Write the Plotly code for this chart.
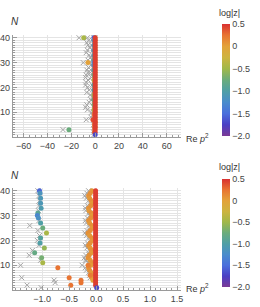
import plotly.graph_objects as go

# ---------------- data ----------------
# gray crosses: (Re p^2, N)
cross_far_x = [-13.5, -6.5, -5.5, -2.5, -7.0, -6.0, -3.0, -4.5, -6.5, -2.0, -7.5, -5.0, -4.0, -2.5,
               -6.0, -10.0, -4.5, -3.5, -2.0, -5.5, -7.0, -6.0, -4.0, -7.5, -8.0, -3.0, -6.0, -7.5,
               -8.0, -2.5, -6.5, -5.0, -7.0, -4.0, -2.5, -3.5, -5.0, -7.0, -8.0, -6.5, -3.0, -2.0,
               -3.5, -7.5, -27.0]
cross_far_n = [40, 40, 39, 39, 38, 37, 37, 36, 35, 35, 34, 33, 32, 31,
               31, 30, 30, 29, 28, 28, 27, 26, 26, 25, 24, 24, 23, 22,
               21, 21, 20, 19, 18, 17, 16, 15, 14, 13, 12, 11, 10, 9,
               8, 7, 3]

cross_band_x = [-0.14, -0.17, -0.21, -0.18, -0.14, -0.12, -0.16, -0.20, -0.19, -0.14, -0.12, -0.16,
                -0.20, -0.18, -0.13, -0.12, -0.17, -0.21, -0.18, -0.14, -0.12, -0.16, -0.20, -0.17,
                -0.13, -0.14, -0.19, -0.22, -0.18, -0.14, -0.26, -0.20, -0.18, -0.14, -0.12, -0.11]
cross_band_n = [40, 39, 38, 37, 36, 35, 34, 33, 32, 31, 30, 29,
                28, 27, 26, 25, 24, 23, 22, 21, 20, 19, 18, 17,
                16, 15, 14, 13, 12, 11, 10, 9, 8, 7, 6, 5]

cross_left_x = [-1.08, -1.06, -1.05, -1.06, -1.07, -1.06, -1.23, -1.70, -1.08, -1.05, -1.09, -1.06,
                -1.18, -1.24, -1.03, -1.40, -1.38, -1.28, -1.02, -0.78, -0.76, -0.20]
cross_left_n = [40, 38, 36, 34, 32, 28, 26, 26, 24, 22, 20, 18,
                16, 14, 12, 10, 5, 2, 1, 4, 3, 12]

# coloured dots: (Re p^2, N, log|z|)
dot_col_x = [-0.01] * 39
dot_col_n = list(range(2, 41))
dot_col_v = [0.45] * 39

dot_band_x = [-0.08, -0.11, -0.14, -0.12, -0.09, -0.07, -0.10, -0.14, -0.13, -0.09, -0.07, -0.10,
              -0.14, -0.12, -0.08, -0.07, -0.11, -0.15, -0.12, -0.08, -0.07, -0.11, -0.14, -0.11,
              -0.08, -0.09, -0.13, -0.15, -0.11, -0.08, -0.10, -0.14, -0.12, -0.09, -0.07, -0.08, -0.06]
dot_band_n = [40, 39, 38, 37, 36, 35, 34, 33, 32, 31, 30, 29,
              28, 27, 26, 25, 24, 23, 22, 21, 20, 19, 18, 17,
              16, 15, 14, 13, 12, 11, 10, 9, 8, 7, 6, 5, 4]
dot_band_v = [0.05, 0.1, 0.1, 0.05, 0.1, 0.05, 0.1, 0.1, 0.05, 0.1, 0.05, 0.1,
              0.1, 0.05, 0.1, 0.05, 0.1, 0.1, 0.05, 0.1, 0.05, 0.1, 0.1, 0.05,
              0.1, 0.05, 0.1, 0.1, 0.05, 0.1, 0.05, 0.1, 0.1, 0.05, 0.1, 0.05, 0.0]

dot_misc_x = [-0.71, -0.50, -0.47, -0.28, -0.28, -0.15, -0.11,
              -1.05, -1.04, -1.03, -1.03, -1.02, -1.08, -1.09, -1.07, -1.03, -0.99, -0.92,
              -1.03, -1.04, -0.96, -1.14, -1.01, -0.99,
              -22.0, -1.9, -6.0, -9.6]
dot_misc_n = [9, 5, 2, 4, 3, 10, 6,
              40, 39, 37, 35, 33, 31, 30, 29, 27, 25, 23,
              21, 19, 17, 15, 13, 11,
              3, 7, 30, 40]
dot_misc_v = [0.25, 0.25, 0.25, 0.25, 0.25, 0.2, 0.2,
              -1.55, -1.15, -1.1, -1.1, -1.05, -0.9, -1.3, -1.2, -1.0, -0.75, -0.45,
              -0.95, -1.0, -0.55, -0.8, -0.7, -0.45,
              -0.75, 0.4, 0.0, -0.45]

dot_base_x = [0.01]
dot_base_n = [1]
dot_base_v = [-1.7]

top_xticks = [-60, -40, -20, 0, 20, 40, 60]
top_xlabels = ["\u221260", "\u221240", "\u221220", "0", "20", "40", "60"]
bot_xticks = [-1.0, -0.5, 0.0, 0.5, 1.0, 1.5]
bot_xlabels = ["\u22121.0", "\u22120.5", "0.0", "0.5", "1.0", "1.5"]
n_ticks = [10, 20, 30, 40]
cb_ticks = [0.5, 0, -0.5, -1.0, -1.5, -2.0]
cb_labels = ["0.5", "0", "\u22120.5", "\u22121.0", "\u22121.5", "\u22122.0"]

# ---------------- styling ----------------
W, H = 260, 307
FONT = "Liberation Sans"
TXT = "#444444"
GRID = "#e4e4e4"
AX = "#9a9a9a"

rainbow = [[0.0, "#7b3a96"], [0.1, "#4a3fc4"], [0.2, "#4a6fdc"], [0.3, "#4a8ccc"],
           [0.4, "#4f9fa6"], [0.5, "#6aac7c"], [0.6, "#a0b84a"], [0.7, "#cdb440"],
           [0.8, "#e3a23a"], [0.9, "#e87432"], [1.0, "#d93131"]]

all_cross_x = cross_far_x + cross_band_x + cross_left_x
all_cross_n = cross_far_n + cross_band_n + cross_left_n

fig = go.Figure()
for xa, ya, ca, clip in [("x", "y", "coloraxis", True), ("x2", "y2", "coloraxis2", False)]:
    fig.add_trace(go.Scatter(
        x=all_cross_x, y=all_cross_n, mode="markers", xaxis=xa, yaxis=ya,
        cliponaxis=clip, showlegend=False, hoverinfo="skip",
        marker=dict(symbol="x-thin", size=5, line=dict(color="#a4a4a4", width=1))))
    for dx, dn, dv in [(dot_band_x, dot_band_n, dot_band_v),
                       (dot_misc_x, dot_misc_n, dot_misc_v),
                       (dot_col_x, dot_col_n, dot_col_v),
                       (dot_base_x, dot_base_n, dot_base_v)]:
        fig.add_trace(go.Scatter(
            x=dx, y=dn, mode="markers", xaxis=xa, yaxis=ya,
            cliponaxis=clip, showlegend=False,
            marker=dict(size=5, color=dv, coloraxis=ca, line=dict(width=0))))

def px_x(p):
    return p / W

def px_y(p):
    return 1 - p / H

xdom = [px_x(11), px_x(182)]
axis_common = dict(showline=True, linecolor=AX, linewidth=1, mirror=False,
                   ticks="inside", ticklen=4, tickcolor=AX, zeroline=False,
                   showgrid=True, gridcolor=GRID, gridwidth=1,
                   tickfont=dict(family=FONT, size=9, color=TXT))

def cbar(ytop, length):
    return dict(x=px_x(224), xanchor="left", xpad=0, thickness=8,
                y=px_y(ytop), yanchor="top", len=length / H, lenmode="fraction",
                ypad=0, outlinewidth=0, ticks="", tickmode="array",
                tickvals=cb_ticks, ticktext=cb_labels,
                tickfont=dict(family=FONT, size=9, color=TXT))

fig.update_layout(
    width=W, height=H, margin=dict(l=0, r=0, t=0, b=0),
    paper_bgcolor="white", plot_bgcolor="white",
    xaxis=dict(domain=xdom, range=[-69.1, 71.6], anchor="y", tickmode="array",
               tickvals=top_xticks, ticktext=top_xlabels,
               minor=dict(dtick=5, ticks="inside", ticklen=2, tickcolor=AX, showgrid=False),
               **axis_common),
    yaxis=dict(domain=[px_y(136), px_y(33)], range=[0, 41.2], anchor="x", tickmode="array",
               tickvals=n_ticks,
               minor=dict(tickvals=list(range(1, 41)), ticks="inside", ticklen=2,
                          tickcolor=AX, showgrid=True, gridcolor=GRID, gridwidth=1),
               **axis_common),
    xaxis2=dict(domain=xdom, range=[-1.545, 1.564], anchor="y2", tickmode="array",
                tickvals=bot_xticks, ticktext=bot_xlabels,
                minor=dict(dtick=0.1, ticks="inside", ticklen=2, tickcolor=AX, showgrid=False),
                **axis_common),
    yaxis2=dict(domain=[px_y(290), px_y(187)], range=[0, 41.2], anchor="x2", tickmode="array",
                tickvals=n_ticks,
                minor=dict(tickvals=list(range(1, 41)), ticks="inside", ticklen=2,
                           tickcolor=AX, showgrid=True, gridcolor=GRID, gridwidth=1),
                **axis_common),
    coloraxis=dict(cmin=-2.0, cmax=0.5, colorscale=rainbow, colorbar=cbar(22, 113)),
    coloraxis2=dict(cmin=-2.0, cmax=0.5, colorscale=rainbow, colorbar=cbar(178, 109)),
)

ann = []
for ny, ry, ty in [(20, 137, 11), (175, 288, 166)]:
    ann.append(dict(text="<i>N</i>", x=px_x(13), y=px_y(ny), xref="paper", yref="paper",
                    showarrow=False, xanchor="center", yanchor="middle",
                    font=dict(family=FONT, size=10, color="#333333")))
    ann.append(dict(text="Re <i>p</i><sup>2</sup>", x=px_x(186), y=px_y(ry), xref="paper",
                    yref="paper", showarrow=False, xanchor="left", yanchor="middle",
                    font=dict(family=FONT, size=9, color="#333333")))
    ann.append(dict(text="log|z|", x=px_x(232), y=px_y(ty), xref="paper", yref="paper",
                    showarrow=False, xanchor="center", yanchor="middle",
                    font=dict(family=FONT, size=9, color="#333333")))
fig.update_layout(annotations=ann)

fig.write_html("out.html", config={"displayModeBar": False},
               post_script="document.body.style.margin='0';")
